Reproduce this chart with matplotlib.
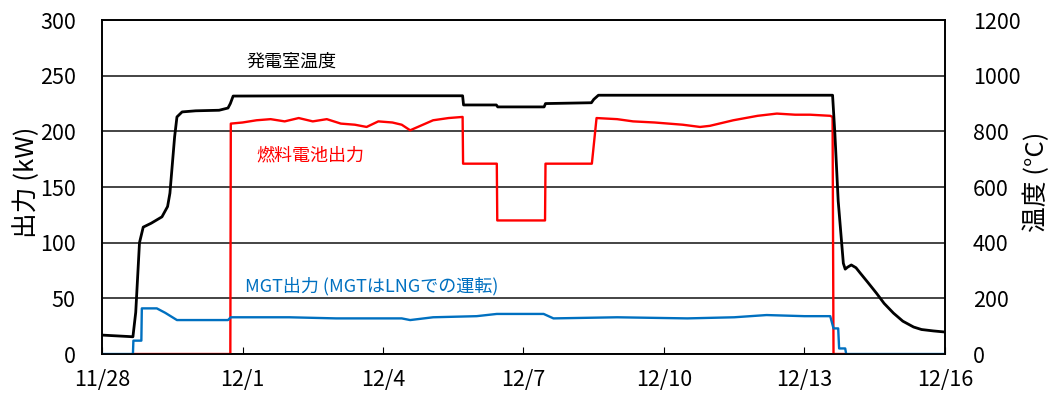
import matplotlib
matplotlib.use('Agg')
import matplotlib.pyplot as plt

plt.rcParams['font.family'] = ['Noto Sans CJK JP', 'DejaVu Sans']

# days counted from 11/28
temp_day = [0, 0.66, 0.72, 0.80, 0.88, 1.05, 1.28, 1.40, 1.45, 1.55, 1.60, 1.71, 2.0, 2.5, 2.69,
            2.74, 2.80, 5.0, 7.70, 7.72, 8.42, 8.45, 9.44, 9.47, 10.45, 10.5, 10.6, 15.6,
            15.65, 15.72, 15.83, 15.87, 15.92, 16.0, 16.1, 16.19, 16.35, 16.54, 16.7, 16.9,
            17.1, 17.33, 17.5, 17.75, 18]
temp_c = [68, 62, 150, 400, 456, 470, 493, 530, 578, 780, 852, 870, 874, 876, 884,
          900, 927, 928, 928, 895, 895, 888, 888, 900, 903, 915, 930, 930,
          790, 550, 326, 305, 312, 320, 310, 291, 258, 218, 182, 147,
          118, 97, 88, 83, 79]

fc_day = [0.66, 2.74, 2.75, 3.0, 3.3, 3.6, 3.9, 4.2, 4.5, 4.8, 5.1, 5.4, 5.65, 5.9, 6.2, 6.4,
          6.58, 7.07, 7.4, 7.70, 7.71, 8.43, 8.44, 9.46, 9.47, 10.46, 10.56, 11.0, 11.34,
          11.8, 12.4, 12.77, 12.98, 13.48, 14.0, 14.41, 14.8, 15.12, 15.55, 15.60, 15.62, 15.83]
fc_kw = [0, 0, 207, 208, 210, 211, 209, 212, 209, 211, 207, 206, 204, 209, 208, 206,
         201, 210, 212, 213, 171, 171, 120, 120, 171, 171, 212, 211, 209,
         208, 206, 204, 205, 210, 214, 216, 215, 215, 214, 213, 0, 0]

mgt_day = [0, 0.66, 0.67, 0.84, 0.85, 1.17, 1.35, 1.6, 2.69, 2.75, 4, 5, 6.4, 6.58, 7.07,
           8.0, 8.43, 9.43, 9.64, 11, 12.5, 13.5, 14.19, 15.0, 15.55, 15.62, 15.72, 15.74,
           15.87, 15.89, 18]
mgt_kw = [0, 0, 12, 12, 41, 41, 37, 30.5, 30.5, 33, 33, 32, 32, 30.5, 33,
          34, 36, 36, 32, 33, 32, 33, 35, 34, 34, 23, 23, 5,
          5, 0, 0]

tick_days = [0, 3, 6, 9, 12, 15, 18]
tick_labels = ['11/28', '12/1', '12/4', '12/7', '12/10', '12/13', '12/16']

fig = plt.figure(figsize=(10.55, 3.94), dpi=100)
ax = fig.add_axes([0.0967, 0.1015, 0.799, 0.8475])
ax2 = ax.twinx()

ax.set_xlim(0, 18)
ax.set_ylim(0, 300)
ax2.set_ylim(0, 1200)
ax.set_yticks(range(0, 301, 50))
ax2.set_yticks(range(0, 1201, 200))
ax.set_xticks(tick_days)
ax.set_xticklabels(tick_labels)
ax.grid(axis='y', color='#111111', linewidth=1.1)
ax.set_axisbelow(True)

ax.tick_params(axis='x', direction='in', length=5, pad=11, labelsize=15.5)
ax.tick_params(axis='y', length=0, pad=19, labelsize=15.5)
ax2.tick_params(axis='y', length=0, pad=20, labelsize=15.5)
for a in (ax, ax2):
    for s in a.spines.values():
        s.set_linewidth(1.2)

ax2.plot(temp_day, temp_c, color='black', lw=2.0, zorder=3)
ax.plot(fc_day, fc_kw, color='#ff0000', lw=1.7, zorder=3)
ax.plot(mgt_day, mgt_kw, color='#0070c0', lw=1.7, zorder=4)

ax.set_ylabel('出力 (kW)', fontsize=18.5)
ax2.set_ylabel('温度 (°C)', fontsize=18.5)
ax.yaxis.set_label_coords(-0.073, 0.515)
ax2.yaxis.set_label_coords(1.093, 0.515)

ax.text(4.04, 263, '発電室温度', fontsize=13, color='black', ha='center', va='center')
ax.text(4.44, 178, '燃料電池出力', fontsize=13, color='#ff0000', ha='center', va='center')
ax.text(3.05, 61, 'MGT出力 (MGTはLNGでの運転)', fontsize=13, color='#0070c0', ha='left', va='center')

fig.savefig('out.png', dpi=100)
